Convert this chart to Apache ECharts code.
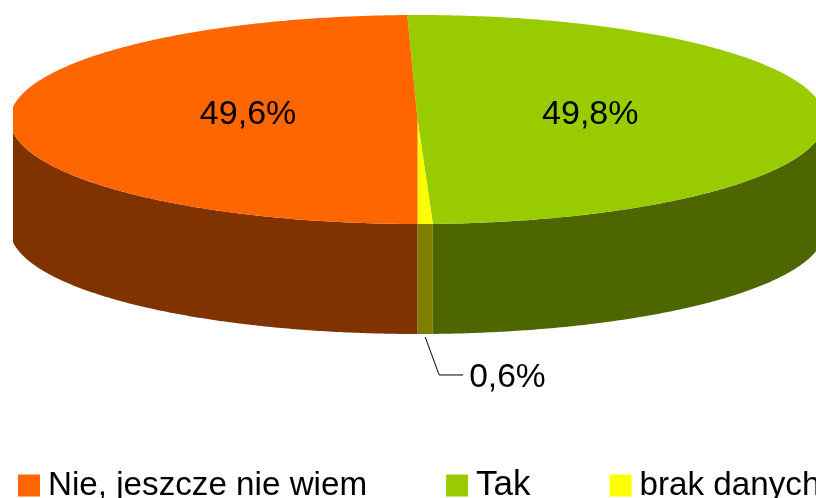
<!DOCTYPE html>
<html>
<head>
<meta charset="utf-8">
<style>html,body{margin:0;padding:0;background:#fff}#c{width:816px;height:498px}</style>
<script src="https://cdn.jsdelivr.net/npm/echarts@6/dist/echarts.min.js"></script>
</head>
<body>
<div id="c"></div>
<script>
const drawOrder = ['Tak', 'brak danych', 'Nie, jeszcze nie wiem'];
const legendOrder = ['Nie, jeszcze nie wiem', 'Tak', 'brak danych'];
const values = [49.8, 0.6, 49.6];
const topColors = ['#99cc00', '#ffff00', '#ff6600'];
const sideColors = ['#4d6600', '#808000', '#803300'];

const FONT = '"Liberation Sans", Arial, sans-serif';
const cx = 417.5, cy = 119.5, rx = 407.5, ry = 104.5, depth = 110, clipLeft = 13;
const total = values.reduce((a, b) => a + b, 0);
const startDeg = 180 - 360 * (values[0] + values[1]) / total; // last slice closes at the front centre

function pt(deg, dy) {
  const t = deg * Math.PI / 180;
  return [Math.max(clipLeft, cx + rx * Math.sin(t)), cy - ry * Math.cos(t) + (dy || 0)];
}
function arc(a, b, dy) {
  const pts = [], n = Math.max(2, Math.ceil(Math.abs(b - a) * 2));
  for (let i = 0; i <= n; i++) pts.push(pt(a + (b - a) * i / n, dy));
  return pts;
}
function fmt(v) { return v.toFixed(1).replace('.', ',') + '%'; }

function makeRender(idx) {
  return function () {
    let before = 0;
    for (let i = 0; i < idx; i++) before += values[i];
    const a = startDeg + 360 * before / total;
    const b = a + 360 * values[idx] / total;
    const mid = (a + b) / 2;
    const children = [];
    const fa = Math.max(a, 90), fb = Math.min(b, 270);
    if (fb > fa) {
      children.push({
        type: 'polygon',
        shape: { points: arc(fa, fb, 0).concat(arc(fb, fa, depth)) },
        style: { fill: sideColors[idx] }
      });
    }
    children.push({
      type: 'polygon',
      shape: { points: [[cx, cy]].concat(arc(a, b, 0)) },
      style: { fill: topColors[idx] }
    });
    if (values[idx] > 5) {
      const p = [cx + 1.7 + 0.42 * rx * Math.sin(mid * Math.PI / 180), cy - 5];
      children.push({
        type: 'text', z2: 10,
        style: { x: p[0], y: p[1], text: fmt(values[idx]), fill: '#000', font: '34px ' + FONT, align: 'center', verticalAlign: 'middle' }
      });
    } else {
      const s = pt(mid, depth + 3);
      children.push({
        type: 'polyline', z2: 10,
        shape: { points: [s, [s[0] + 14, s[1] + 38], [s[0] + 38, s[1] + 38]] },
        style: { stroke: '#000', lineWidth: 1, fill: null }
      });
      children.push({
        type: 'text', z2: 10,
        style: { x: s[0] + 44, y: s[1] + 41, text: fmt(values[idx]), fill: '#000', font: '33.6px ' + FONT, align: 'left', verticalAlign: 'middle' }
      });
    }
    return { type: 'group', children };
  };
}

const chart = echarts.init(document.getElementById('c'), null, { renderer: 'canvas' });
chart.setOption({
  animation: false,
  backgroundColor: '#fff',
  legend: {
    data: legendOrder.map(name => name === 'Tak'
      ? { name, textStyle: { fontFamily: FONT, fontSize: 35, color: '#000', padding: [0, 0, 0, 3] } }
      : { name }),
    left: 13, top: 463, width: 1400,
    orient: 'horizontal',
    itemWidth: 22, itemHeight: 22, itemGap: 79,
    icon: 'rect',
    selectedMode: false,
    textStyle: { fontFamily: FONT, fontSize: 33.2, color: '#000', padding: [0, 0, 0, 3] }
  },
  series: drawOrder.map((name, i) => ({
    type: 'custom',
    name,
    coordinateSystem: 'none',
    silent: true,
    itemStyle: { color: topColors[i] },
    renderItem: makeRender(i),
    data: [[values[i]]]
  }))
});
</script>
</body>
</html>
